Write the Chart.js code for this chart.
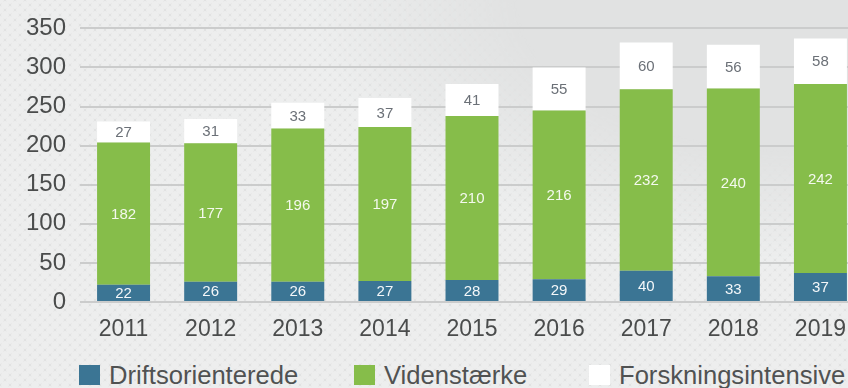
<!DOCTYPE html>
<html>
<head>
<meta charset="utf-8">
<script src="https://cdn.jsdelivr.net/npm/chart.js@4/dist/chart.umd.min.js"></script>
<style>
  html, body { margin: 0; padding: 0; }
  body {
    width: 848px; height: 388px; overflow: hidden; position: relative;
    background: #e1e2e2;
    font-family: "Liberation Sans", Arial, sans-serif;
  }
  #dots {
    position: absolute; left: 0; top: 0; width: 848px; height: 388px;
    background-image:
      radial-gradient(circle at center, #edeeee 0 3.5px, transparent 4px),
      radial-gradient(circle at center, #edeeee 0 3.5px, transparent 4px);
    background-size: 10px 10px, 10px 10px;
    background-position: 0 0, 5px 5px;
    -webkit-mask-image: radial-gradient(ellipse 620px 330px at 800px 0px, transparent 45%, #000 80%);
    mask-image: radial-gradient(ellipse 620px 330px at 800px 0px, transparent 45%, #000 80%);
  }
  #wrap { position: absolute; left: 0; top: 0; width: 864px; height: 345px; }
  .legend { position: absolute; top: 360px; height: 30px; display: flex; align-items: center; }
  .legend .box { width: 21px; height: 20px; margin-right: 9px; }
  .legend .txt { font-size: 25.6px; color: #505252; line-height: 30px; }
</style>
</head>
<body>
<div id="dots"></div>
<div id="wrap"><canvas id="c"></canvas></div>
<div class="legend" style="left:79px"><div class="box" style="background:#3b7594"></div><div class="txt">Driftsorienterede</div></div>
<div class="legend" style="left:354px"><div class="box" style="background:#86bd4a"></div><div class="txt">Videnstærke</div></div>
<div class="legend" style="left:589px"><div class="box" style="background:#ffffff"></div><div class="txt">Forskningsintensive</div></div>
<script>
const years = ['2011', '2012', '2013', '2014', '2015', '2016', '2017', '2018', '2019'];
const driftsorienterede = [22, 26, 26, 27, 28, 29, 40, 33, 37];
const videnstaerke = [182, 177, 196, 197, 210, 216, 232, 240, 242];
const forskningsintensive = [27, 31, 33, 37, 41, 55, 60, 56, 58];
const yTicks = [0, 50, 100, 150, 200, 250, 300, 350];

// Writes each segment's value in the middle of its bar piece
const segmentLabels = {
  id: 'segmentLabels',
  afterDatasetsDraw(chart) {
    const ctx = chart.ctx;
    ctx.save();
    ctx.font = '15px "Liberation Sans", Arial, sans-serif';
    ctx.textAlign = 'center';
    ctx.textBaseline = 'middle';
    chart.data.datasets.forEach((ds, i) => {
      const meta = chart.getDatasetMeta(i);
      meta.data.forEach((bar, j) => {
        const p = bar.getProps(['x', 'y', 'base'], true);
        ctx.fillStyle = ds.labelColor;
        ctx.fillText(String(ds.data[j]), p.x, (p.y + p.base) / 2 + 1);
      });
    });
    ctx.restore();
  }
};

new Chart(document.getElementById('c'), {
  type: 'bar',
  data: {
    labels: years,
    datasets: [
      { label: 'Driftsorienterede', data: driftsorienterede, backgroundColor: '#3b7594', labelColor: '#f4f7f9' },
      { label: 'Videnstærke', data: videnstaerke, backgroundColor: '#86bd4a', labelColor: '#f4f9ee' },
      { label: 'Forskningsintensive', data: forskningsintensive, backgroundColor: '#ffffff', labelColor: '#6b7077' }
    ]
  },
  options: {
    responsive: true,
    maintainAspectRatio: false,
    animation: false,
    layout: { padding: { top: 28, right: 0, left: 0, bottom: 0 } },
    datasets: { bar: { categoryPercentage: 1, barPercentage: 0.608, borderWidth: 0 } },
    plugins: { legend: { display: false }, tooltip: { enabled: false } },
    scales: {
      x: {
        stacked: true,
        grid: { display: false },
        border: { display: false },
        ticks: { color: '#4a4c4c', padding: 6, font: { family: '"Liberation Sans", Arial, sans-serif', size: 23 } },
        afterFit(scale) { scale.height = 43; }
      },
      y: {
        stacked: true,
        min: 0,
        max: 350,
        afterBuildTicks(scale) { scale.ticks = yTicks.map(v => ({ value: v })); },
        grid: { color: '#cbcccc', lineWidth: 2, drawTicks: false },
        border: { display: false },
        ticks: { color: '#4a4c4c', padding: 14, font: { family: '"Liberation Sans", Arial, sans-serif', size: 24 } },
        afterFit(scale) { scale.width = 80; }
      }
    }
  },
  plugins: [segmentLabels]
});
</script>
</body>
</html>
